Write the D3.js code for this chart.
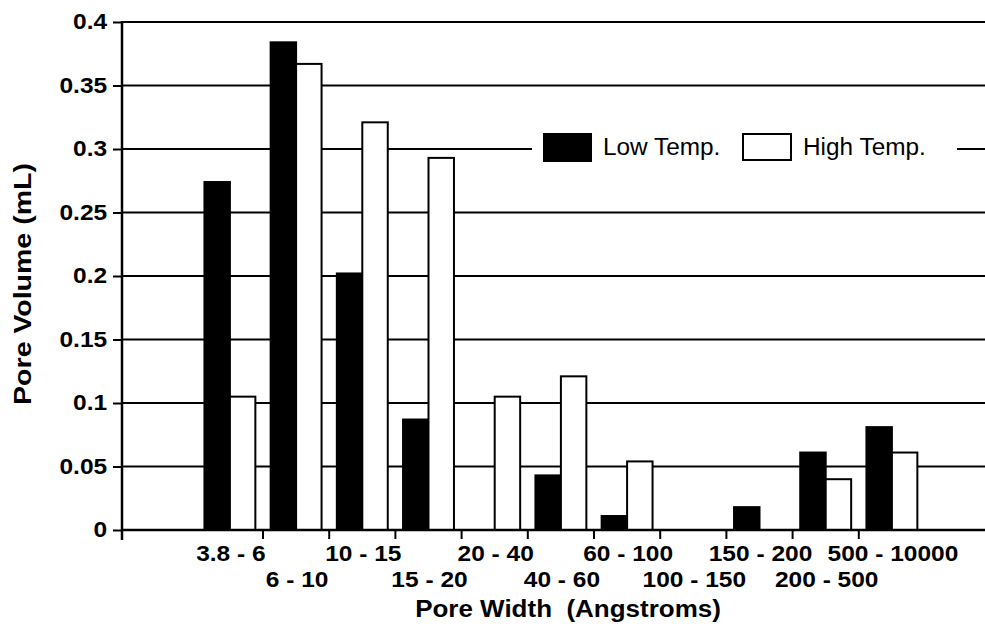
<!DOCTYPE html>
<html>
<head>
<meta charset="utf-8">
<script src="https://cdn.jsdelivr.net/npm/d3@7"></script>
<style>
  body { margin: 0; background: #fff; }
  svg { display: block; font-family: "Liberation Sans", Arial, Helvetica, sans-serif; }
</style>
</head>
<body>
<svg width="985" height="635"></svg>
<script>
var svg = d3.select("svg"),
  width = +svg.attr("width"),
  height = +svg.attr("height");

// pore width classes (Angstroms)
var categories = ["3.8 - 6", "6 - 10", "10 - 15", "15 - 20", "20 - 40", "40 - 60",
  "60 - 100", "100 - 150", "150 - 200", "200 - 500", "500 - 10000"];
// pore volume (mL)
var lowTemp  = [0.274, 0.384, 0.202, 0.087, 0, 0.043, 0.011, 0, 0.018, 0.061, 0.081];
var highTemp = [0.105, 0.367, 0.321, 0.293, 0.105, 0.121, 0.054, 0, 0, 0.040, 0.061];
var series = ["Low Temp.", "High Temp."];
var yTicks = [0, 0.05, 0.1, 0.15, 0.2, 0.25, 0.3, 0.35, 0.4];
var yTickLabels = ["0", "0.05", "0.1", "0.15", "0.2", "0.25", "0.3", "0.35", "0.4"];

var left = 122, right = width, y0 = 530;

var y = d3.scaleLinear().domain([0, 0.4]).range([y0, 22]);

var x = d3.scaleBand()
  .domain(categories)
  .range([196.8, 925])
  .paddingInner(0)
  .paddingOuter(0);

var xs = d3.scaleBand()
  .domain(series)
  .range([0, x.bandwidth()])
  .paddingInner(0)
  .paddingOuter(0.3);

var fill = d3.scaleOrdinal().domain(series).range(["#000", "#fff"]);

// gridlines
svg.append("g")
  .selectAll("line")
  .data(yTicks.slice(1))
  .enter().append("line")
  .attr("x1", left).attr("x2", right)
  .attr("y1", function(d) { return y(d); })
  .attr("y2", function(d) { return y(d); })
  .attr("stroke", "#000")
  .attr("stroke-width", 2);

// legend (white box hides the 0.3 gridline)
var lg = svg.append("g");
lg.append("rect")
  .attr("x", 532).attr("y", 128).attr("width", 425).attr("height", 40)
  .attr("fill", "#fff");
lg.append("rect")
  .attr("x", 543).attr("y", 133).attr("width", 49).attr("height", 29)
  .attr("fill", fill(series[0]));
lg.append("text")
  .attr("transform", "translate(603,155) scale(1.06,1)")
  .attr("font-size", 23)
  .text(series[0]);
lg.append("rect")
  .attr("x", 743).attr("y", 134).attr("width", 48).attr("height", 26)
  .attr("fill", fill(series[1]))
  .attr("stroke", "#000").attr("stroke-width", 2);
lg.append("text")
  .attr("transform", "translate(803,155) scale(1.06,1)")
  .attr("font-size", 23)
  .text(series[1]);

// bars
var rows = categories.map(function(c, i) {
  return { cat: c, values: [
    { key: series[0], value: lowTemp[i] },
    { key: series[1], value: highTemp[i] }
  ] };
});

svg.append("g")
  .selectAll("g")
  .data(rows)
  .enter().append("g")
  .attr("transform", function(d) { return "translate(" + x(d.cat) + ",0)"; })
  .selectAll("rect")
  .data(function(d) { return d.values.filter(function(v) { return v.value > 0; }); })
  .enter().append("rect")
  .attr("x", function(d) { return xs(d.key); })
  .attr("width", xs.bandwidth())
  .attr("y", function(d) { return y(d.value); })
  .attr("height", function(d) { return y0 - y(d.value); })
  .attr("fill", function(d) { return fill(d.key); })
  .attr("stroke", "#000")
  .attr("stroke-width", 2);

// y axis
var yAxis = svg.append("g")
  .attr("transform", "translate(" + left + ",0)")
  .call(d3.axisLeft(y)
    .tickValues(yTicks)
    .tickSize(9)
    .tickPadding(4)
    .tickFormat(function(d, i) { return yTickLabels[i]; }));
yAxis.select(".domain").remove();
yAxis.selectAll(".tick line").attr("stroke-width", 2);
yAxis.selectAll(".tick text")
  .attr("font-size", 21.5)
  .attr("font-weight", "bold")
  .attr("font-family", "Liberation Sans, Arial, sans-serif")
  .attr("fill", "#000")
  .attr("transform", "scale(1.14,1)");

svg.append("line")
  .attr("x1", left).attr("x2", left)
  .attr("y1", y(0.4) - 1).attr("y2", y0 + 10)
  .attr("stroke", "#000").attr("stroke-width", 2.5);

// x axis
svg.append("line")
  .attr("x1", left).attr("x2", right)
  .attr("y1", y0).attr("y2", y0)
  .attr("stroke", "#000").attr("stroke-width", 2.5);

svg.append("g")
  .selectAll("line")
  .data(categories.slice(1))
  .enter().append("line")
  .attr("x1", function(d) { return x(d); })
  .attr("x2", function(d) { return x(d); })
  .attr("y1", y0).attr("y2", y0 + 9)
  .attr("stroke", "#000").attr("stroke-width", 2);

svg.append("g")
  .selectAll("text")
  .data(categories)
  .enter().append("text")
  .attr("transform", function(d, i) {
    var cx = x(d) + x.bandwidth() / 2 + 1;
    var by = i % 2 === 0 ? 561 : 587;
    return "translate(" + cx + "," + by + ") scale(1.14,1)";
  })
  .attr("text-anchor", "middle")
  .attr("font-size", 21.5)
  .attr("font-weight", "bold")
  .text(function(d) { return d; });

// axis titles
svg.append("text")
  .attr("transform", "translate(568,617) scale(1.13,1)")
  .attr("text-anchor", "middle")
  .attr("font-size", 23)
  .attr("font-weight", "bold")
  .style("white-space", "pre")
  .text("Pore Width  (Angstroms)");

svg.append("text")
  .attr("transform", "translate(31,284) rotate(-90) scale(1.24,1)")
  .attr("text-anchor", "middle")
  .attr("font-size", 23)
  .attr("font-weight", "bold")
  .text("Pore Volume (mL)");
</script>
</body>
</html>
